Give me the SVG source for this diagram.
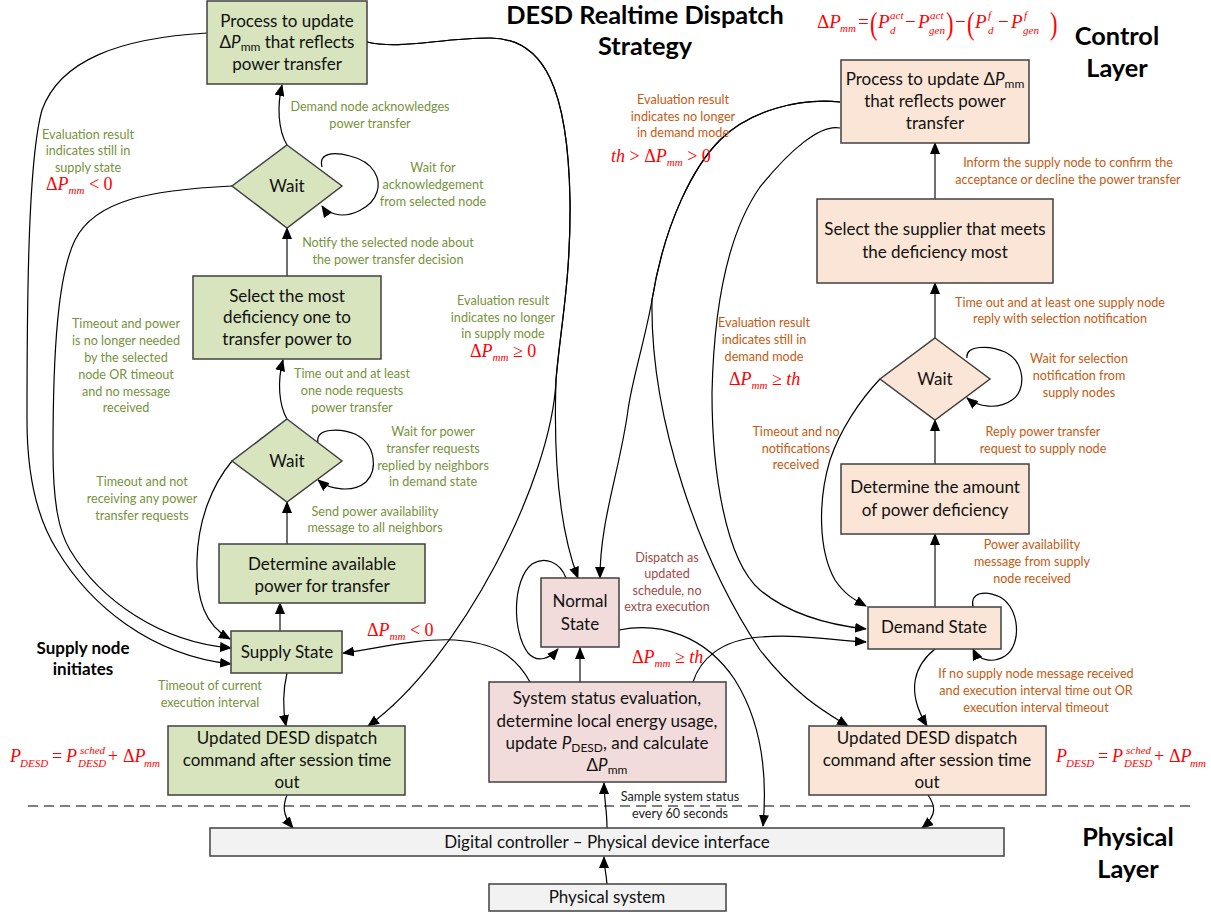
<svg xmlns="http://www.w3.org/2000/svg" width="1211" height="916" viewBox="0 0 1211 916">
  <style>
    .box { stroke: #404040; stroke-width: 1.5; }
    .sup { fill: #d7e4bd; }
    .dem { fill: #fbe5d6; }
    .nor { fill: #f2dcdb; }
    .phy { fill: #f2f2f2; }
    .n { font-family: Lato, "Liberation Sans", sans-serif; font-size: 17px; fill: #111; text-anchor: middle; }
    .nsub { font-size: 12px; }
    .lbl { font-family: Lato, "Liberation Sans", sans-serif; font-size: 12.6px; text-anchor: middle; }
    .lg { fill: #76923c; }
    .lo { fill: #c55a11; }
    .lr { fill: #a04a48; }
    .lk { fill: #222; }
    .hd { font-family: Lato, "Liberation Sans", sans-serif; font-weight: bold; font-size: 25.3px; fill: #000; text-anchor: middle; }
    .hs { font-size: 17px; }
    .m { font-family: "Liberation Serif", "Times New Roman", serif; font-size: 18px; fill: #ff0000; }
    .mi { font-style: italic; }
    .ms { font-style: italic; font-size: 11px; }
    .c { fill: none; stroke: #000; stroke-width: 1.2; marker-end: url(#ah); }
    .s { fill: none; stroke: #404040; stroke-width: 1.5; marker-end: url(#ah); }
  </style>
  <defs>
    <marker id="ah" viewBox="0 0 12 10" refX="11" refY="5" markerWidth="12" markerHeight="10" markerUnits="userSpaceOnUse" orient="auto">
      <path d="M0,0 L12,5 L0,10 z" fill="#000"/>
    </marker>
    <g id="eq-pdesd" class="m">
      <text x="10" y="762" class="mi">P</text>
      <text x="20" y="767" class="ms">DESD</text>
      <text x="52" y="762">=</text>
      <text x="66" y="762" class="mi">P</text>
      <text x="80" y="754" class="ms">sched</text>
      <text x="78" y="767" class="ms">DESD</text>
      <text x="108" y="762">+</text>
      <text x="123" y="762">Δ<tspan class="mi">P</tspan></text>
      <text x="144" y="767" class="ms">mm</text>
    </g>
  </defs>

  <rect width="1211" height="916" fill="#fff"/>

  <!-- headings -->
  <text class="hd" x="645" y="24">DESD Realtime Dispatch</text>
  <text class="hd" x="645" y="55">Strategy</text>
  <text class="hd" x="1117" y="45">Control</text>
  <text class="hd" x="1117" y="77">Layer</text>
  <text class="hd" x="1128" y="846">Physical</text>
  <text class="hd" x="1128" y="878">Layer</text>
  <text class="hd hs" x="83" y="654">Supply node</text>
  <text class="hd hs" x="83" y="675">initiates</text>

  <!-- layer separator -->
  <line x1="28" y1="806" x2="1195" y2="806" stroke="#000" stroke-width="1.2" stroke-dasharray="10,6"/>

  <!-- connectors -->
  <g id="connectors">
    <!-- supply side -->
    <path class="s" d="M280,631 V603"/>
    <path class="s" d="M287,544 V502"/>
    <path class="c" d="M287,419 C279,405 277,382 283,360"/>
    <path class="s" d="M287,276 V228"/>
    <path class="c" d="M287,145 C278,130 277,106 282,85"/>
    <path class="c" d="M322,167 C318,152 335,152 350,156 C375,162 381,180 377,192 C372,208 350,218 335,214 C328,212 324,209 322,206"/>
    <path class="c" d="M318,442 C315,428 340,428 355,434 C376,444 378,470 366,482 C353,493 330,490 318,480"/>
    <path class="c" d="M232,186 C150,190 95,200 75,240 C58,275 53,350 53,450 C53,500 58,530 70,550 C100,600 160,642 231,648"/>
    <path class="c" d="M207,33 C120,38 60,60 42,110 C28,160 27,300 27,420 C27,480 38,520 57,550 C90,605 150,655 231,664"/>
    <path class="c" d="M232,461 C212,485 198,520 197,560 C196,600 205,625 230,639"/>
    <path class="c" d="M287,673 C283,690 282,705 286,726"/>
    <path class="c" d="M367,42 C400,50 440,38 490,38 C545,38 568,90 570,200 C571,280 560,330 556,380 C554,440 556,520 578,578"/>
    <path class="c" d="M367,42 C400,50 440,38 490,38 C545,38 568,90 570,200 C571,280 560,330 556,380 C552,480 460,660 368,726"/>
    <path class="c" d="M287,795 C283,805 282,815 293,828"/>
    <!-- normal / evaluation -->
    <path class="s" d="M580,682 V648"/>
    <path class="c" d="M566,578 C560,562 545,556 532,564 C512,580 512,632 528,653 C538,664 550,658 558,649"/>
    <path class="c" d="M530,682 C515,655 495,643 455,640 C420,638 380,648 343,653"/>
    <path class="c" d="M693,682 C700,660 720,640 760,637 C800,634 830,640 866,642"/>
    <path class="c" d="M619,630 C660,622 705,635 735,680 C760,720 768,770 763,826"/>
    <path class="c" d="M607,828 C607,810 604,798 604,783"/>
    <path class="c" d="M607,884 C606,872 604,866 604,857"/>
    <!-- demand side -->
    <path class="c" d="M840,102 C800,98 750,110 720,140 C695,165 665,220 652,300 C645,340 632,380 628,410 C620,470 600,520 600,578"/>
    <path class="c" d="M840,102 C800,98 750,110 720,140 C695,165 665,220 652,300 C650,420 700,560 760,650 C795,695 825,712 848,726"/>
    <path class="c" d="M840,128 C820,124 790,150 760,187 C730,230 714,300 712,393 C712,470 725,560 760,590 C790,615 830,625 866,629"/>
    <path class="c" d="M880,379 C860,400 840,430 830,460 C818,500 818,550 835,580 C845,595 855,600 866,606"/>
    <path class="s" d="M935,607 V534"/>
    <path class="s" d="M935,464 V420"/>
    <path class="s" d="M935,338 V283"/>
    <path class="s" d="M935,199 V143"/>
    <path class="c" d="M967,358 C965,345 990,345 1005,352 C1025,362 1027,390 1012,400 C998,410 978,407 967,398"/>
    <path class="c" d="M973,607 C970,592 985,590 1000,597 C1020,608 1022,645 1005,656 C992,664 978,660 973,649"/>
    <path class="c" d="M935,649 C915,665 905,690 927,726"/>
    <path class="c" d="M928,795 C935,805 938,815 922,828"/>
  </g>

  <!-- supply node flow -->
  <g id="n-supply-process">
    <rect class="box sup" x="207" y="1" width="160" height="83"/>
    <text class="n" x="287" y="27">Process to update</text>
    <text class="n" x="287" y="48">Δ<tspan font-style="italic">P</tspan><tspan class="nsub" dy="3">mm</tspan><tspan dy="-3"> that reflects</tspan></text>
    <text class="n" x="287" y="70">power transfer</text>
  </g>
  <g id="n-supply-wait-ack">
    <polygon class="box sup" points="287,145 342,186 287,228 232,186"/>
    <text class="n" x="287" y="192">Wait</text>
  </g>
  <g id="n-supply-select">
    <rect class="box sup" x="193" y="276" width="188" height="83"/>
    <text class="n" x="287" y="302">Select the most</text>
    <text class="n" x="287" y="323">deficiency one to</text>
    <text class="n" x="287" y="345">transfer power to</text>
  </g>
  <g id="n-supply-wait-req">
    <polygon class="box sup" points="287,419 342,461 287,502 232,461"/>
    <text class="n" x="287" y="467">Wait</text>
  </g>
  <g id="n-supply-determine">
    <rect class="box sup" x="219" y="544" width="206" height="59"/>
    <text class="n" x="322" y="570">Determine available</text>
    <text class="n" x="322" y="592">power for transfer</text>
  </g>
  <g id="n-supply-state">
    <rect class="box sup" x="231" y="631" width="111" height="42"/>
    <text class="n" x="287" y="658">Supply State</text>
  </g>
  <g id="n-supply-dispatch">
    <rect class="box sup" x="168" y="726" width="237" height="69"/>
    <text class="n" x="287" y="744">Updated DESD dispatch</text>
    <text class="n" x="287" y="766">command after session time</text>
    <text class="n" x="287" y="788">out</text>
  </g>

  <!-- normal flow -->
  <g id="n-normal">
    <rect class="box nor" x="541" y="578" width="78" height="69"/>
    <text class="n" x="580" y="607">Normal</text>
    <text class="n" x="580" y="630">State</text>
  </g>
  <g id="n-evaluation">
    <rect class="box nor" x="489" y="682" width="237" height="100"/>
    <text class="n" x="607" y="704">System status evaluation,</text>
    <text class="n" x="607" y="727">determine local energy usage,</text>
    <text class="n" x="607" y="749">update <tspan font-style="italic">P</tspan><tspan class="nsub" dy="3">DESD</tspan><tspan dy="-3">, and calculate</tspan></text>
    <text class="n" x="607" y="771">Δ<tspan font-style="italic">P</tspan><tspan class="nsub" dy="3">mm</tspan></text>
  </g>
  <g id="n-interface">
    <rect class="box phy" x="210" y="828" width="794" height="28"/>
    <text class="n" x="607" y="848">Digital controller – Physical device interface</text>
  </g>
  <g id="n-physical">
    <rect class="box phy" x="489" y="884" width="237" height="27"/>
    <text class="n" x="607" y="903">Physical system</text>
  </g>

  <!-- demand node flow -->
  <g id="n-demand-process">
    <rect class="box dem" x="841" y="60" width="188" height="83"/>
    <text class="n" x="935" y="85">Process to update Δ<tspan font-style="italic">P</tspan><tspan class="nsub" dy="3">mm</tspan></text>
    <text class="n" x="935" y="107">that reflects power</text>
    <text class="n" x="935" y="129">transfer</text>
  </g>
  <g id="n-demand-select">
    <rect class="box dem" x="817" y="199" width="236" height="84"/>
    <text class="n" x="935" y="235">Select the supplier that meets</text>
    <text class="n" x="935" y="258">the deficiency most</text>
  </g>
  <g id="n-demand-wait">
    <polygon class="box dem" points="935,338 990,379 935,420 880,379"/>
    <text class="n" x="935" y="385">Wait</text>
  </g>
  <g id="n-demand-determine">
    <rect class="box dem" x="841" y="464" width="188" height="70"/>
    <text class="n" x="935" y="493">Determine the amount</text>
    <text class="n" x="935" y="516">of power deficiency</text>
  </g>
  <g id="n-demand-state">
    <rect class="box dem" x="868" y="607" width="133" height="42"/>
    <text class="n" x="934" y="633">Demand State</text>
  </g>
  <g id="n-demand-dispatch">
    <rect class="box dem" x="809" y="726" width="237" height="69"/>
    <text class="n" x="927" y="744">Updated DESD dispatch</text>
    <text class="n" x="927" y="766">command after session time</text>
    <text class="n" x="927" y="788">out</text>
  </g>

  <!-- transition labels: supply side -->
  <g id="labels-supply" class="lbl lg">
    <text x="370" y="111">Demand node acknowledges</text>
    <text x="370" y="128">power transfer</text>
    <text x="433" y="172">Wait for</text>
    <text x="433" y="189">acknowledgement</text>
    <text x="433" y="206">from selected node</text>
    <text x="388" y="247">Notify the selected node about</text>
    <text x="388" y="264">the power transfer decision</text>
    <text x="88" y="139">Evaluation result</text>
    <text x="88" y="155">indicates still in</text>
    <text x="88" y="172">supply state</text>
    <text x="126" y="328">Timeout and power</text>
    <text x="126" y="345">is no longer needed</text>
    <text x="126" y="362">by the selected</text>
    <text x="126" y="379">node OR timeout</text>
    <text x="126" y="396">and no message</text>
    <text x="126" y="412">received</text>
    <text x="352" y="378">Time out and at least</text>
    <text x="352" y="395">one node requests</text>
    <text x="352" y="412">power transfer</text>
    <text x="433" y="436">Wait for power</text>
    <text x="433" y="453">transfer requests</text>
    <text x="433" y="470">replied by neighbors</text>
    <text x="433" y="486">in demand state</text>
    <text x="142" y="486">Timeout and not</text>
    <text x="142" y="503">receiving any power</text>
    <text x="142" y="520">transfer requests</text>
    <text x="375" y="516">Send power availability</text>
    <text x="375" y="532">message to all neighbors</text>
    <text x="210" y="690">Timeout of current</text>
    <text x="210" y="707">execution interval</text>
    <text x="503" y="305">Evaluation result</text>
    <text x="503" y="322">indicates no longer</text>
    <text x="503" y="338">in supply mode</text>
  </g>

  <!-- transition labels: demand side -->
  <g id="labels-demand" class="lbl lo">
    <text x="683" y="104">Evaluation result</text>
    <text x="683" y="121">indicates no longer</text>
    <text x="683" y="137">in demand mode</text>
    <text x="1068" y="167">Inform the supply node to confirm the</text>
    <text x="1068" y="184">acceptance or decline the power transfer</text>
    <text x="1060" y="307">Time out and at least one supply node</text>
    <text x="1060" y="323">reply with selection notification</text>
    <text x="764" y="327">Evaluation result</text>
    <text x="764" y="344">indicates still  in</text>
    <text x="764" y="361">demand mode</text>
    <text x="1079" y="363">Wait for selection</text>
    <text x="1079" y="380">notification from</text>
    <text x="1079" y="397">supply nodes</text>
    <text x="796" y="436">Timeout and no</text>
    <text x="796" y="453">notifications</text>
    <text x="796" y="469">received</text>
    <text x="1043" y="436">Reply power transfer</text>
    <text x="1043" y="453">request to supply node</text>
    <text x="1032" y="549">Power availability</text>
    <text x="1032" y="566">message from supply</text>
    <text x="1032" y="583">node received</text>
    <text x="1036" y="678">If no supply node message received</text>
    <text x="1036" y="695">and execution interval time out OR</text>
    <text x="1036" y="712">execution interval timeout</text>
  </g>

  <g id="labels-normal" class="lbl">
    <text class="lr" x="667" y="562">Dispatch as</text>
    <text class="lr" x="667" y="578">updated</text>
    <text class="lr" x="667" y="595">schedule, no</text>
    <text class="lr" x="667" y="611">extra execution</text>
    <text class="lk" x="680" y="801">Sample system status</text>
    <text class="lk" x="680" y="818">every 60 seconds</text>
  </g>

  <!-- conditions and formulas -->
  <g id="conditions" class="m">
    <text x="46" y="190">Δ<tspan class="mi">P</tspan><tspan class="ms" dy="4">mm</tspan><tspan dy="-4"> &lt; 0</tspan></text>
    <text x="470" y="357">Δ<tspan class="mi">P</tspan><tspan class="ms" dy="4">mm</tspan><tspan dy="-4"> ≥ 0</tspan></text>
    <text x="611" y="162"><tspan class="mi">th</tspan> &gt; Δ<tspan class="mi">P</tspan><tspan class="ms" dy="4">mm</tspan><tspan dy="-4"> &gt; 0</tspan></text>
    <text x="729" y="385">Δ<tspan class="mi">P</tspan><tspan class="ms" dy="4">mm</tspan><tspan dy="-4"> ≥ </tspan><tspan class="mi">th</tspan></text>
    <text x="367" y="636">Δ<tspan class="mi">P</tspan><tspan class="ms" dy="4">mm</tspan><tspan dy="-4"> &lt; 0</tspan></text>
    <text x="632" y="663">Δ<tspan class="mi">P</tspan><tspan class="ms" dy="4">mm</tspan><tspan dy="-4"> ≥ </tspan><tspan class="mi">th</tspan></text>
  </g>

  <g id="eq-mismatch" class="m" style="font-size:19px">
    <text x="817" y="28">Δ<tspan class="mi">P</tspan></text>
    <text x="840" y="32" class="ms">mm</text>
    <text x="858" y="28">=</text>
    <text transform="translate(870,34) scale(0.7,1)" style="font-size:32px">(</text>
    <text x="878" y="28" class="mi">P</text>
    <text x="890" y="19" class="ms">act</text>
    <text x="890" y="34" class="ms">d</text>
    <text x="905" y="28">−</text>
    <text x="918" y="28" class="mi">P</text>
    <text x="930" y="19" class="ms">act</text>
    <text x="929" y="34" class="ms">gen</text>
    <text transform="translate(946,34) scale(0.7,1)" style="font-size:32px">)</text>
    <text x="955" y="28">−</text>
    <text transform="translate(967,34) scale(0.7,1)" style="font-size:32px">(</text>
    <text x="975" y="28" class="mi">P</text>
    <text x="988" y="19" class="ms">f</text>
    <text x="988" y="34" class="ms">d</text>
    <text x="998" y="28">−</text>
    <text x="1011" y="28" class="mi">P</text>
    <text x="1024" y="19" class="ms">f</text>
    <text x="1023" y="34" class="ms">gen</text>
    <text transform="translate(1050,34) scale(0.7,1)" style="font-size:32px">)</text>
  </g>

  <use href="#eq-pdesd"/>
  <use href="#eq-pdesd" transform="translate(1046,0)"/>
</svg>
